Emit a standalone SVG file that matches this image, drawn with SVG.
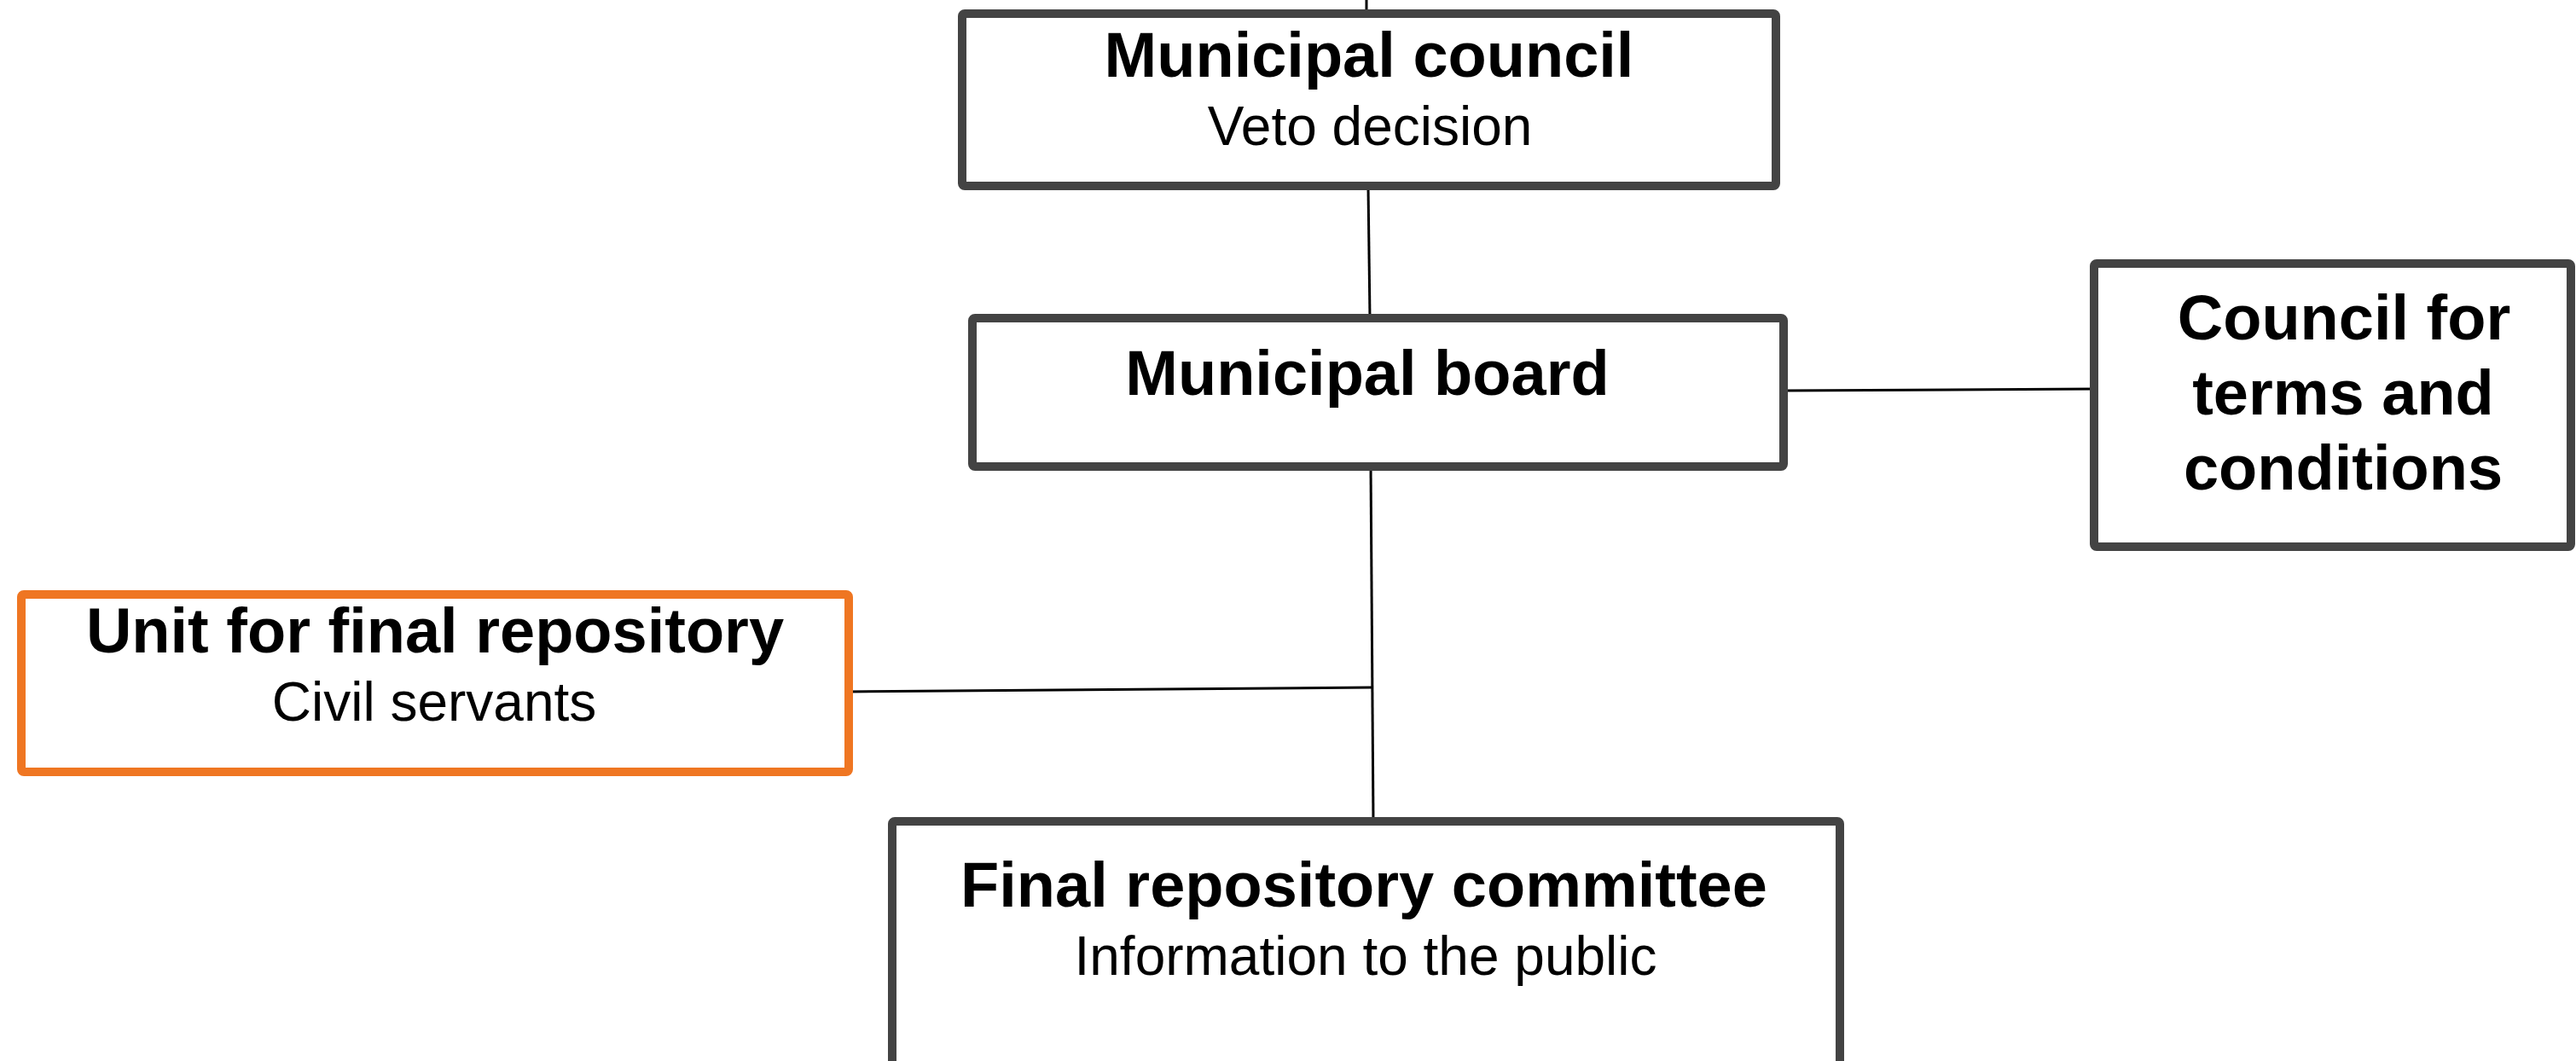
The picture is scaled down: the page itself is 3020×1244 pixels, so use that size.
<svg xmlns="http://www.w3.org/2000/svg" width="3020" height="1244" viewBox="0 0 3020 1244">
<style>
.box{fill:#fff;stroke:#434343;stroke-width:10}
.orange{fill:#fff;stroke:#EF7622;stroke-width:10}
.conn{stroke:#000;stroke-width:3;fill:none}
.t{font-family:"Liberation Sans",Arial,sans-serif;font-weight:bold;font-size:74px;fill:#000;text-anchor:middle}
.s{font-family:"Liberation Sans",Arial,sans-serif;font-size:64px;fill:#000;text-anchor:middle}
</style>
<rect width="3020" height="1244" fill="#fff"/>
<g id="connectors">
<line class="conn" x1="1602" y1="0" x2="1602" y2="15" stroke-width="2"/>
<line class="conn" x1="1604" y1="218" x2="1606" y2="373"/>
<line class="conn" x1="1607" y1="547" x2="1610" y2="963"/>
<line class="conn" x1="2091" y1="458" x2="2455" y2="456"/>
<line class="conn" x1="995" y1="811" x2="1608" y2="806"/>
</g>
<g id="municipal-council">
<rect class="box" x="1128" y="16" width="954" height="202" rx="3"/>
<text class="t" x="1605" y="90">Municipal council</text>
<text class="s" x="1606" y="170">Veto decision</text>
</g>
<g id="municipal-board">
<rect class="box" x="1140" y="373" width="951" height="174" rx="3"/>
<text class="t" x="1603" y="463">Municipal board</text>
</g>
<g id="council-terms">
<rect class="box" x="2455" y="309" width="559" height="332" rx="3"/>
<text class="t" x="2748" y="398">Council for</text>
<text class="t" x="2747" y="486">terms and</text>
<text class="t" x="2747" y="574">conditions</text>
</g>
<g id="unit-final-repository">
<rect class="orange" x="25" y="697" width="970" height="208" rx="3"/>
<text class="t" x="510" y="765">Unit for final repository</text>
<text class="s" x="509" y="845">Civil servants</text>
</g>
<g id="final-repository-committee">
<rect class="box" x="1046" y="963" width="1111" height="300" rx="3"/>
<text class="t" x="1599" y="1063">Final repository committee</text>
<text class="s" x="1601" y="1143">Information to the public</text>
</g>
</svg>
